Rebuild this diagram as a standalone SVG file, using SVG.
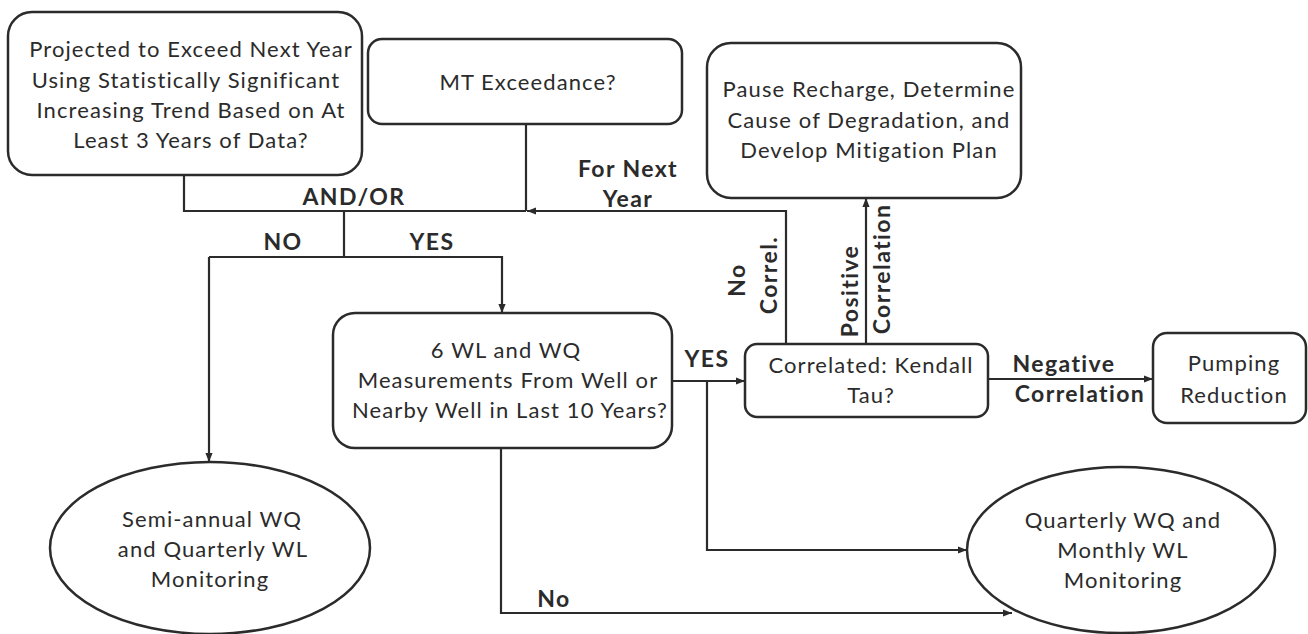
<svg xmlns="http://www.w3.org/2000/svg" width="1308" height="634" viewBox="0 0 1308 634">
<defs>
<style>
.box{fill:#fff;stroke:#2b2b2b;stroke-width:2.5}
.t{font-family:Lato,"Open Sans","Liberation Sans",sans-serif;font-size:22px;letter-spacing:1.1px;fill:#2b2b2b;text-anchor:middle}
.b{font-family:Lato,"Open Sans","Liberation Sans",sans-serif;font-size:23px;letter-spacing:1.4px;font-weight:bold;fill:#2b2b2b;text-anchor:middle}
.c{fill:none;stroke:#2b2b2b;stroke-width:2.2}
</style>
<marker id="ah" viewBox="0 0 10 10" refX="10" refY="5" markerWidth="9" markerHeight="9" markerUnits="userSpaceOnUse" orient="auto">
<path d="M0,1 L10,5 L0,9 Z" fill="#2b2b2b"/>
</marker>
</defs>
<rect width="1308" height="634" fill="#fff"/>

<g id="connectors">
<path class="c" d="M184,175 V211 H526"/>
<path class="c" d="M526,124 V211"/>
<path class="c" d="M786,344 V211 H527" marker-end="url(#ah)"/>
<path class="c" d="M344,211 V257"/>
<path class="c" d="M209,257 H502 V313" marker-end="url(#ah)"/>
<path class="c" d="M209,257 V462" marker-end="url(#ah)"/>
<path class="c" d="M672,381 H745" marker-end="url(#ah)"/>
<path class="c" d="M707,381 V550 H967" marker-end="url(#ah)"/>
<path class="c" d="M501,448 V613 H1012" marker-end="url(#ah)"/>
<path class="c" d="M866,344 V198" marker-end="url(#ah)"/>
<path class="c" d="M988,379 H1153" marker-end="url(#ah)"/>
<text class="b" x="354" y="205">AND/OR</text>
<text class="b" x="628" y="177">For Next</text>
<text class="b" x="628" y="207">Year</text>
<text class="b" x="283" y="250">NO</text>
<text class="b" x="432" y="250">YES</text>
<text class="b" x="707" y="367">YES</text>
<text class="b" x="554" y="607">No</text>
<text class="b" x="1064" y="372">Negative</text>
<text class="b" x="1080" y="402">Correlation</text>
<text class="b" transform="translate(745,280) rotate(-90)">No</text>
<text class="b" transform="translate(777,275) rotate(-90)">Correl.</text>
<text class="b" transform="translate(858,291) rotate(-90)">Positive</text>
<text class="b" transform="translate(890,269) rotate(-90)">Correlation</text>
</g>

<g id="n-projected">
<rect class="box" x="8" y="12" width="354" height="163" rx="24"/>
<text class="t" x="191" y="57">Projected to Exceed Next Year</text>
<text class="t" x="186" y="88">Using Statistically Significant</text>
<text class="t" x="191" y="118">Increasing Trend Based on At</text>
<text class="t" x="191" y="148">Least 3 Years of Data?</text>
</g>

<g id="n-mt">
<rect class="box" x="368" y="39" width="314" height="85" rx="14"/>
<text class="t" x="528" y="90">MT Exceedance?</text>
</g>

<g id="n-pause">
<rect class="box" x="707" y="43" width="314" height="155" rx="24"/>
<text class="t" x="869" y="97">Pause Recharge, Determine</text>
<text class="t" x="869" y="128">Cause of Degradation, and</text>
<text class="t" x="869" y="158">Develop Mitigation Plan</text>
</g>

<g id="n-measure">
<rect class="box" x="333" y="313" width="339" height="135" rx="22"/>
<text class="t" x="506" y="358">6 WL and WQ</text>
<text class="t" x="508" y="388">Measurements From Well or</text>
<text class="t" x="510" y="418">Nearby Well in Last 10 Years?</text>
</g>

<g id="n-kendall">
<rect class="box" x="745" y="344" width="243" height="73" rx="12"/>
<text class="t" x="871" y="373">Correlated: Kendall</text>
<text class="t" x="871" y="403">Tau?</text>
</g>

<g id="n-pumping">
<rect class="box" x="1153" y="333" width="153" height="90" rx="14"/>
<text class="t" x="1234" y="371">Pumping</text>
<text class="t" x="1234" y="403">Reduction</text>
</g>

<g id="n-semi">
<ellipse class="box" cx="210" cy="548" rx="160" ry="86"/>
<text class="t" x="212" y="527">Semi-annual WQ</text>
<text class="t" x="213" y="557">and Quarterly WL</text>
<text class="t" x="210" y="587">Monitoring</text>
</g>

<g id="n-quarterly">
<ellipse class="box" cx="1121" cy="550" rx="154" ry="83"/>
<text class="t" x="1123" y="528">Quarterly WQ and</text>
<text class="t" x="1123" y="558">Monthly WL</text>
<text class="t" x="1123" y="588">Monitoring</text>
</g>
</svg>
